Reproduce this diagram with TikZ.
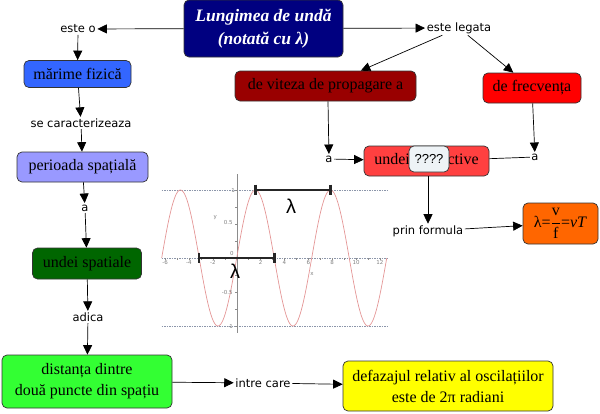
\documentclass[tikz,border=0pt]{standalone}
\usepackage{fontspec}
\setmainfont{Liberation Serif}
\newfontfamily\lab{DejaVu Sans}
\newfontfamily\lsans{Liberation Sans}
\usetikzlibrary{arrows.meta}
\definecolor{cnavy}{RGB}{0,0,128}
\definecolor{cblue}{RGB}{51,102,255}
\definecolor{cperi}{RGB}{153,153,255}
\definecolor{cdkgreen}{RGB}{0,102,0}
\definecolor{cgreen}{RGB}{51,255,51}
\definecolor{cyell}{RGB}{255,255,0}
\definecolor{cdkred}{RGB}{153,0,0}
\definecolor{cred}{RGB}{255,0,0}
\definecolor{cltred}{RGB}{255,64,64}
\definecolor{corange}{RGB}{255,102,0}
\definecolor{cq}{RGB}{238,243,246}
\definecolor{ccurve}{RGB}{228,150,150}
\definecolor{cgrid}{RGB}{140,150,170}
\begin{document}
\begin{tikzpicture}[x=1pt,y=-1pt,
  box/.style={draw=black!80, line width=0.7pt, rounded corners=5pt, inner sep=0pt,
    align=center, font=\fontsize{16}{21}\selectfont},
  lbl/.style={inner sep=1.5pt, font=\lab\fontsize{11.5}{13}\selectfont},
  arr/.style={line width=0.7pt, -{Triangle[length=9.5pt,width=9pt]}},
  ln/.style={line width=0.7pt},
  tick/.style={font=\lab\fontsize{5.5}{6}\selectfont, text=black!50, inner sep=0pt},
  lam/.style={font=\lsans\fontsize{20}{21}\selectfont, inner sep=0pt}]
\useasboundingbox (0,0) rectangle (600,413);

% ---------- wave graph ----------
\begin{scope}[xshift=236.7pt, yshift=-258pt, x=11.94pt, y=68pt]
  \foreach \yy in {1,0,-1}
    \draw[cgrid, line width=0.5pt, dash pattern=on 1.5pt off 1pt] (-6.28,\yy) -- (12.6,\yy);
  \draw[black!45, line width=0.4pt] (0,1.23) -- (0,-1.11);
  \foreach \yy in {-1,-0.75,...,1.1} \draw[black!45, line width=0.3pt] (-0.12,\yy) -- (0,\yy);
  \foreach \xx in {-6,...,12} \draw[black!45, line width=0.3pt] (\xx,0) -- (\xx,-0.03);
  \draw[ccurve, line width=0.7pt, domain=-6.2832:12.5664, samples=240, smooth] plot (\x,{sin(\x r)});
  \foreach \xx in {-6,-4,-2,2,4,6,8,10,12}
    \node[tick] (tx\xx) at (\xx,-0.07) {\xx};
  \node[tick] (tx0) at (-0.4,0.06) {0};
  \node[tick] (ty1) at (-0.3,1) {1};
  \node[tick] (ty05) at (-0.7,0.52) {0.5};
  \node[tick] (tym05) at (-0.8,-0.5) {-0.5};
  \node[tick] (tym1) at (-0.55,-1) {-1};
  \node[tick] (ylab) at (-1.8,0.59) {y};
  \node[tick] (xlab) at (6.3,-0.24) {x};
  % lambda bars
  \draw[black!85, line width=2.6pt] (1.5708,1) -- (7.854,1);
  \draw[black!85, line width=2.6pt] (1.5708,1.08) -- (1.5708,0.92);
  \draw[black!85, line width=2.6pt] (7.854,1.08) -- (7.854,0.92);
  \draw[black!85, line width=2.6pt] (-3.1416,0) -- (3.1416,0);
  \draw[black!85, line width=2.6pt] (-3.1416,0.08) -- (-3.1416,-0.08);
  \draw[black!85, line width=2.6pt] (3.1416,0.08) -- (3.1416,-0.08);
\end{scope}
\node[lam] (lam1) at (291,206) {λ};
\node[lam] (lam2) at (235,271) {λ};

% ---------- boxes ----------
\node[box, fill=cnavy, text=white, minimum width=159pt, minimum height=57pt,
  font=\bfseries\itshape\fontsize{17.5}{23}\selectfont] (title) at (263.5,28.5)
  {Lungimea de undă\\(notată cu λ)};
\node[box, fill=cblue, minimum width=107pt, minimum height=27pt] (marime) at (77.5,74) {mărime fizică};
\node[box, fill=cperi, minimum width=131pt, minimum height=30pt] (perioada) at (82.5,167) {perioada spațială};
\node[box, fill=cdkgreen, minimum width=109pt, minimum height=31pt] (undsp) at (87,263.5) {undei spatiale};
\node[box, fill=cgreen, minimum width=170pt, minimum height=53pt] (dist) at (87,381.5) {distanța dintre\\două puncte din spațiu};
\node[box, fill=cyell, minimum width=210pt, minimum height=50pt] (yell) at (448,386) {defazajul relativ al oscilațiilor\\este de 2π radiani};
\node[box, fill=cdkred, minimum width=181pt, minimum height=30pt] (viteza) at (325.5,86) {de viteza de propagare a};
\node[box, fill=cred, minimum width=98pt, minimum height=30pt] (frecv) at (532,88) {de frecvența};
\node[box, fill=cltred, minimum width=125pt, minimum height=30pt] (undresp) at (426.5,161) {undei respective};
\node[box, fill=cq, minimum width=40pt, minimum height=26pt, font=\lsans\fontsize{13}{15}\selectfont] (qbox) at (429,159) {????};
\node[box, fill=corange, minimum width=75pt, minimum height=41pt] (formula) at (560.5,223.5)
  {λ=${\displaystyle\frac{\mbox{v}}{\mbox{f}}}$=\textit{vT}};

% ---------- labels ----------
\node[lbl] (esteo) at (78,29) {este o};
\node[lbl] (secar) at (81,123) {se caracterizeaza};
\node[lbl] (a1) at (85,208) {a};
\node[lbl] (adica) at (88,317) {adica};
\node[lbl] (intre) at (263,383) {intre care};
\node[lbl] (legata) at (459,28) {este legata};
\node[lbl] (a2) at (329,159) {a};
\node[lbl] (a3) at (535,157) {a};
\node[lbl] (prin) at (428,231) {prin formula};

% ---------- connectors ----------
\draw[arr] (title) -- (esteo);
\draw[arr] (esteo) -- (marime);
\draw[arr] (marime) -- (secar);
\draw[arr] (secar) -- (perioada);
\draw[arr] (perioada) -- (a1);
\draw[arr] (a1) -- (undsp);
\draw[arr] (undsp) -- (adica);
\draw[arr] (adica) -- (dist);
\draw[arr] (dist) -- (intre);
\draw[arr] (intre) -- (yell);
\draw[arr] (title) -- (legata);
\draw[arr] (legata) -- (viteza);
\draw[arr] (legata) -- (frecv);
\draw[arr] ([xshift=2.5pt]viteza.south) -- (a2);
\draw[arr] (a2) -- (undresp);
\draw[ln] (undresp) -- (a3);
\draw[arr] (frecv) -- (a3);
\draw[arr] ([xshift=1.5pt]undresp.south) -- (prin);
\draw[arr] (prin) -- (formula);
\end{tikzpicture}
\end{document}
